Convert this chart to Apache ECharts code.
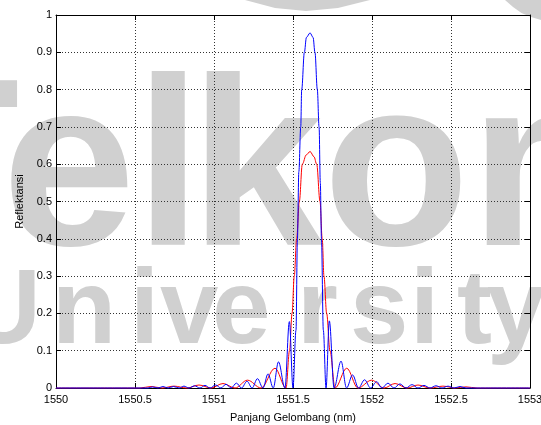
<!DOCTYPE html>
<html><head><meta charset="utf-8">
<script src="https://cdn.jsdelivr.net/npm/echarts@6/dist/echarts.min.js"></script>
<style>html,body{margin:0;padding:0;background:#fff}#c{width:541px;height:425px}</style>
</head><body><div id="c"></div>
<script>
const xTicks = [1550, 1550.5, 1551, 1551.5, 1552, 1552.5, 1553];
const yTicks = [0, 0.1, 0.2, 0.3, 0.4, 0.5, 0.6, 0.7, 0.8, 0.9, 1];
const xTitle = 'Panjang Gelombang (nm)';
const yTitle = 'Reflektansi';

const blueX = [1550.000, 1550.582, 1550.611, 1550.646, 1550.677, 1550.709, 1550.744, 1550.779, 1550.810, 1550.842,
  1550.877, 1550.911, 1550.943, 1550.975, 1551.010, 1551.044, 1551.076, 1551.108, 1551.142, 1551.174,
  1551.209, 1551.241, 1551.275, 1551.310, 1551.342, 1551.375, 1551.408, 1551.449, 1551.477, 1551.500,
  1551.519, 1551.528, 1551.537, 1551.549, 1551.555, 1551.572, 1551.585, 1551.608, 1551.627, 1551.639,
  1551.654, 1551.665, 1551.673, 1551.680, 1551.692, 1551.709, 1551.730, 1551.760, 1551.804, 1551.839,
  1551.877, 1551.915, 1551.953, 1551.991, 1552.029, 1552.063, 1552.101, 1552.139, 1552.177, 1552.215,
  1552.253, 1552.291, 1552.329, 1552.367, 1552.405, 1552.443, 1552.481, 1552.519, 1552.557, 1552.595, 1553.000];
const blueY = [0, 0, 0.003, 0, 0.004, 0, 0.004, 0, 0.005, 0,
  0.006, 0, 0.007, 0, 0.008, 0, 0.010, 0, 0.013, 0,
  0.018, 0, 0.025, 0, 0.038, 0, 0.070, 0, 0.178, 0,
  0.155, 0.40, 0.58, 0.70, 0.80, 0.90, 0.94, 0.952, 0.94, 0.90,
  0.80, 0.70, 0.55, 0.40, 0.155, 0, 0.180, 0, 0.072, 0,
  0.035, 0, 0.022, 0, 0.017, 0, 0.013, 0, 0.011, 0,
  0.009, 0, 0.007, 0, 0.006, 0, 0.005, 0, 0.004, 0, 0];

const redX = [1550.000, 1550.532, 1550.601, 1550.671, 1550.747, 1550.829, 1550.905, 1550.981, 1551.057, 1551.133,
  1551.212, 1551.298, 1551.386, 1551.456, 1551.478, 1551.494, 1551.508, 1551.523, 1551.540, 1551.559,
  1551.584, 1551.608, 1551.633, 1551.650, 1551.671, 1551.685, 1551.696, 1551.713, 1551.734, 1551.766,
  1551.840, 1551.911, 1551.998, 1552.076, 1552.146, 1552.222, 1552.291, 1552.367, 1552.449, 1552.525,
  1552.595, 1552.665, 1553.000];
const redY = [0, 0, 0.004, 0, 0.005, 0, 0.008, 0, 0.012, 0,
  0.021, 0, 0.053, 0, 0.10, 0.20, 0.30, 0.40, 0.50, 0.60,
  0.625, 0.634, 0.62, 0.60, 0.50, 0.40, 0.30, 0.20, 0.10, 0,
  0.053, 0, 0.021, 0, 0.012, 0, 0.008, 0, 0.005, 0,
  0.003, 0, 0];

const wmTop = ['T', 'e', 'l', 'k', 'o', 'm'];
const wmTopX = [-127, 2, 135, 190, 323, 470];
const wmBot = ['U', 'n', 'i', 'v', 'e', 'r', 's', 'i', 't', 'y'];
const wmBotX = [-35, 52, 130, 160, 212, 297, 350, 410, 457, 487];

const zip = (xs, ys) => xs.map((x, i) => [x, ys[i]]);
const FONT = '"Liberation Sans", Arial, Helvetica, sans-serif';
const WM = '#d0d0d0';

const graphic = [];
wmTop.forEach((ch, i) => graphic.push({type: 'text', z: -10, silent: true,
  style: {text: ch, x: wmTopX[i], y: 299, fill: WM, font: 'bold 240px ' + FONT, textVerticalAlign: 'bottom'}}));
wmBot.forEach((ch, i) => graphic.push({type: 'text', z: -10, silent: true,
  style: {text: ch, x: wmBotX[i], y: 367, fill: WM, font: 'bold 105px ' + FONT, textVerticalAlign: 'bottom'}}));
graphic.push({type: 'polygon', z: -10, silent: true,
  shape: {points: [[245, 0], [275, 8], [306, 11], [338, 8], [370, 0]]}, style: {fill: WM}});
graphic.push({type: 'polygon', z: -10, silent: true,
  shape: {points: [[505, 0], [513, 7], [521.5, 13], [531, 17], [541, 20], [541, 0]]}, style: {fill: WM}});

const chart = echarts.init(document.getElementById('c'), null, {renderer: 'canvas'});
const gridLine = {show: true, lineStyle: {color: '#333', type: [1, 2], width: 1}};
chart.setOption({
  animation: false,
  backgroundColor: 'transparent',
  graphic: graphic,
  grid: {left: 56, top: 15, right: 11, bottom: 37, show: false, outerBoundsMode: 'none', containLabel: false},
  xAxis: [{
    type: 'value', min: xTicks[0], max: xTicks[xTicks.length - 1], interval: 0.5,
    axisLine: {show: true, onZero: false, lineStyle: {color: '#000', width: 1}},
    axisTick: {show: true, inside: true, length: 5, lineStyle: {color: '#000'}},
    axisLabel: {color: '#000', fontFamily: FONT, fontSize: 11, margin: 6, hideOverlap: false,
      formatter: v => String(v)},
    splitLine: gridLine,
    name: xTitle, nameLocation: 'middle', nameGap: 24,
    nameTextStyle: {color: '#000', fontFamily: FONT, fontSize: 11}
  }, {
    type: 'value', position: 'top', min: xTicks[0], max: xTicks[xTicks.length - 1], interval: 0.5,
    axisLine: {show: true, onZero: false, lineStyle: {color: '#000', width: 1}},
    axisTick: {show: true, inside: true, length: 5, lineStyle: {color: '#000'}},
    axisLabel: {show: false}, splitLine: {show: false}
  }],
  yAxis: [{
    type: 'value', min: yTicks[0], max: yTicks[yTicks.length - 1], interval: 0.1,
    axisLine: {show: true, onZero: false, lineStyle: {color: '#000', width: 1}},
    axisTick: {show: true, inside: true, length: 5, lineStyle: {color: '#000'}},
    axisLabel: {color: '#000', fontFamily: FONT, fontSize: 11, margin: 4,
      formatter: v => String(Math.round(v * 10) / 10)},
    splitLine: gridLine,
    name: yTitle, nameLocation: 'middle', nameGap: 31, nameRotate: 90,
    nameTextStyle: {color: '#000', fontFamily: FONT, fontSize: 11}
  }, {
    type: 'value', position: 'right', min: yTicks[0], max: yTicks[yTicks.length - 1], interval: 0.1,
    axisLine: {show: true, onZero: false, lineStyle: {color: '#000', width: 1}},
    axisTick: {show: true, inside: true, length: 5, lineStyle: {color: '#000'}},
    axisLabel: {show: false}, splitLine: {show: false}
  }],
  series: [{
    type: 'line', name: 'red', data: zip(redX, redY), showSymbol: false, smooth: 0.35, smoothMonotone: 'x',
    clip: false, lineStyle: {color: '#ff0000', width: 1}, z: 3
  }, {
    type: 'line', name: 'blue', data: zip(blueX, blueY), showSymbol: false, smooth: 0.35, smoothMonotone: 'x',
    clip: false, lineStyle: {color: '#0000ff', width: 1}, z: 4
  }]
});
</script></body></html>
